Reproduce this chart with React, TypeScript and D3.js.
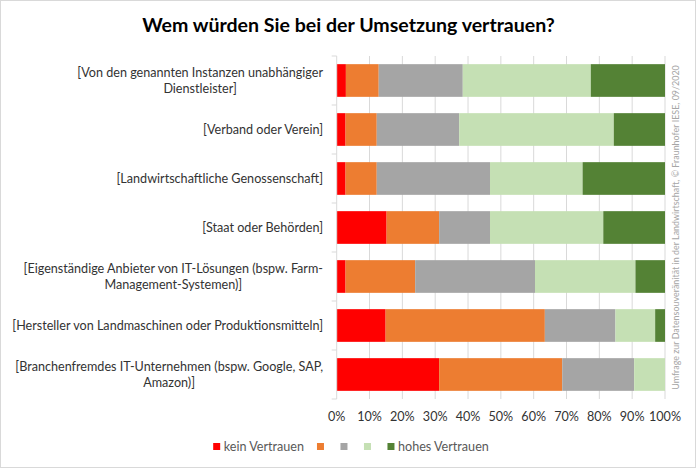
import React, { useEffect, useRef } from "react";
import * as d3 from "d3";

const categories = [
  "[Von den genannten Instanzen unabhängiger\nDienstleister]",
  "[Verband oder Verein]",
  "[Landwirtschaftliche Genossenschaft]",
  "[Staat oder Behörden]",
  "[Eigenständige Anbieter von IT-Lösungen (bspw. Farm-\nManagement-Systemen)]",
  "[Hersteller von Landmaschinen oder Produktionsmitteln]",
  "[Branchenfremdes IT-Unternehmen (bspw. Google, SAP,\nAmazon)]",
];
const seriesNames = ["kein Vertrauen", "", "", "", "hohes Vertrauen"];
const s1 = [2.8, 2.7, 2.7, 15.2, 2.7, 14.9, 31.2];
const s2 = [10.0, 9.5, 9.5, 16.0, 21.2, 48.5, 37.5];
const s3 = [25.6, 25.1, 34.5, 15.5, 36.5, 21.5, 21.9];
const s4 = [39.0, 47.1, 28.2, 34.5, 30.6, 12.1, 9.4];
const s5 = [22.6, 15.6, 25.1, 18.8, 9.0, 3.0, 0];
const xTicks = [0, 10, 20, 30, 40, 50, 60, 70, 80, 90, 100];
const colors = ["#FF0000", "#ED7D31", "#A5A5A5", "#C5E0B4", "#548235"];
const title = "Wem würden Sie bei der Umsetzung vertrauen?";
const sideNote = "Umfrage zur Datensouveränität in der Landwirtschaft, © Fraunhofer IESE, 09/2020";

const W = 698;
const H = 469;
const FONT = "Lato, 'Open Sans', sans-serif";

function fitSize(svg: any, text: string, weight: string, target: number) {
  const t = svg.append("text").attr("font-family", FONT).attr("font-weight", weight)
    .attr("font-size", 20).text(text);
  const w = (t.node() as SVGTextElement).getComputedTextLength();
  t.remove();
  return (20 * target) / w;
}

export default function App() {
  const ref = useRef<SVGSVGElement>(null);
  useEffect(() => {
    const svg = d3.select(ref.current);
    svg.selectAll("*").remove();

    svg.append("rect").attr("x", 0.5).attr("y", 0.5).attr("width", W - 3).attr("height", H - 2)
      .attr("fill", "#fff").attr("stroke", "#d9d9d9");

    const labelSize = fitSize(svg, "[Hersteller von Landmaschinen oder Produktionsmitteln]", "normal", 311);
    const titleSize = fitSize(svg, title, "bold", 413);
    const noteSize = fitSize(svg, sideNote, "normal", 325);

    const left = 336.7, right = 665, top = 56, bottom = 399;
    const x = d3.scaleLinear().domain([0, 100]).range([left, right]);
    const y = d3.scaleBand().domain(categories).range([top, bottom]).paddingInner(0.333).paddingOuter(0.1665);

    // title
    svg.append("text").attr("x", 348.5).attr("y", 32).attr("text-anchor", "middle")
      .attr("font-family", FONT).attr("font-weight", "bold").attr("font-size", titleSize).attr("fill", "#000")
      .text(title);

    // gridlines
    svg.append("g").selectAll("line").data(xTicks.slice(1)).join("line")
      .attr("x1", d => x(d)).attr("x2", d => x(d)).attr("y1", top).attr("y2", bottom)
      .attr("stroke", "#d9d9d9").attr("stroke-width", 1);

    // stacked bars
    const rows = categories.map((c, i) => ({ cat: c, a: s1[i], b: s2[i], c2: s3[i], d: s4[i], e: s5[i] }));
    const keys = ["a", "b", "c2", "d", "e"];
    const stack = d3.stack<any>().keys(keys)(rows);
    svg.append("g").selectAll("g").data(stack).join("g")
      .attr("fill", (_, i) => colors[i])
      .selectAll("rect").data(d => d).join("rect")
      .attr("x", d => x(d[0])).attr("width", d => Math.max(0, x(d[1]) - x(d[0])))
      .attr("y", d => y(d.data.cat)!).attr("height", y.bandwidth());

    // y axis line and ticks
    const ax = svg.append("g").attr("stroke", "#d9d9d9").attr("stroke-width", 1);
    ax.append("line").attr("x1", left).attr("x2", left).attr("y1", top).attr("y2", bottom);
    const step = (bottom - top) / categories.length;
    d3.range(categories.length + 1).forEach(i => {
      ax.append("line").attr("x1", left - 5).attr("x2", left).attr("y1", top + i * step).attr("y2", top + i * step);
    });

    // category labels
    const labelRight = 323;
    const lg = svg.append("g").attr("font-family", FONT).attr("font-size", labelSize).attr("fill", "#333");
    categories.forEach(cat => {
      const lines = cat.split("\n");
      const cy = y(cat)! + y.bandwidth() / 2;
      const lh = 16.6;
      const texts = lines.map((ln, j) =>
        lg.append("text").attr("y", cy + (j - (lines.length - 1) / 2) * lh).attr("dy", "0.35em")
          .attr("text-anchor", "middle").text(ln)
      );
      const widths = texts.map(t => (t.node() as SVGTextElement).getComputedTextLength());
      const maxW = Math.max(...widths);
      texts.forEach(t => t.attr("x", labelRight - maxW / 2));
    });

    // x tick labels
    svg.append("g").attr("font-family", FONT).attr("font-size", labelSize).attr("fill", "#333")
      .selectAll("text").data(xTicks).join("text")
      .attr("x", d => x(d)).attr("y", 417).attr("dy", "0.35em").attr("text-anchor", "middle")
      .text(d => d + "%");

    // legend
    const leg = svg.append("g").attr("font-family", FONT).attr("font-size", labelSize).attr("fill", "#595959");
    const items = seriesNames.map((n, i) => {
      const g = leg.append("g");
      g.append("rect").attr("width", 7).attr("height", 7).attr("y", -3.5).attr("fill", colors[i]);
      const t = g.append("text").attr("x", 10.5).attr("dy", "0.35em").text(n);
      const w = n ? (t.node() as SVGTextElement).getComputedTextLength() : 0;
      return { g, w: 10.5 + w + (i < seriesNames.length - 1 ? 13 : 0) };
    });
    const total = d3.sum(items, d => d.w);
    let cx = 351 - total / 2;
    items.forEach(it => {
      it.g.attr("transform", `translate(${cx},446.5)`);
      cx += it.w;
    });

    // side note
    svg.append("text").attr("transform", "translate(679,227.5) rotate(-90)")
      .attr("text-anchor", "middle").attr("font-family", FONT).attr("font-size", noteSize).attr("fill", "#a6a6a6")
      .text(sideNote);
  }, []);
  return (
    <svg ref={ref} width={W} height={H} style={{ position: "absolute", left: 0, top: 0 }} />
  );
}
